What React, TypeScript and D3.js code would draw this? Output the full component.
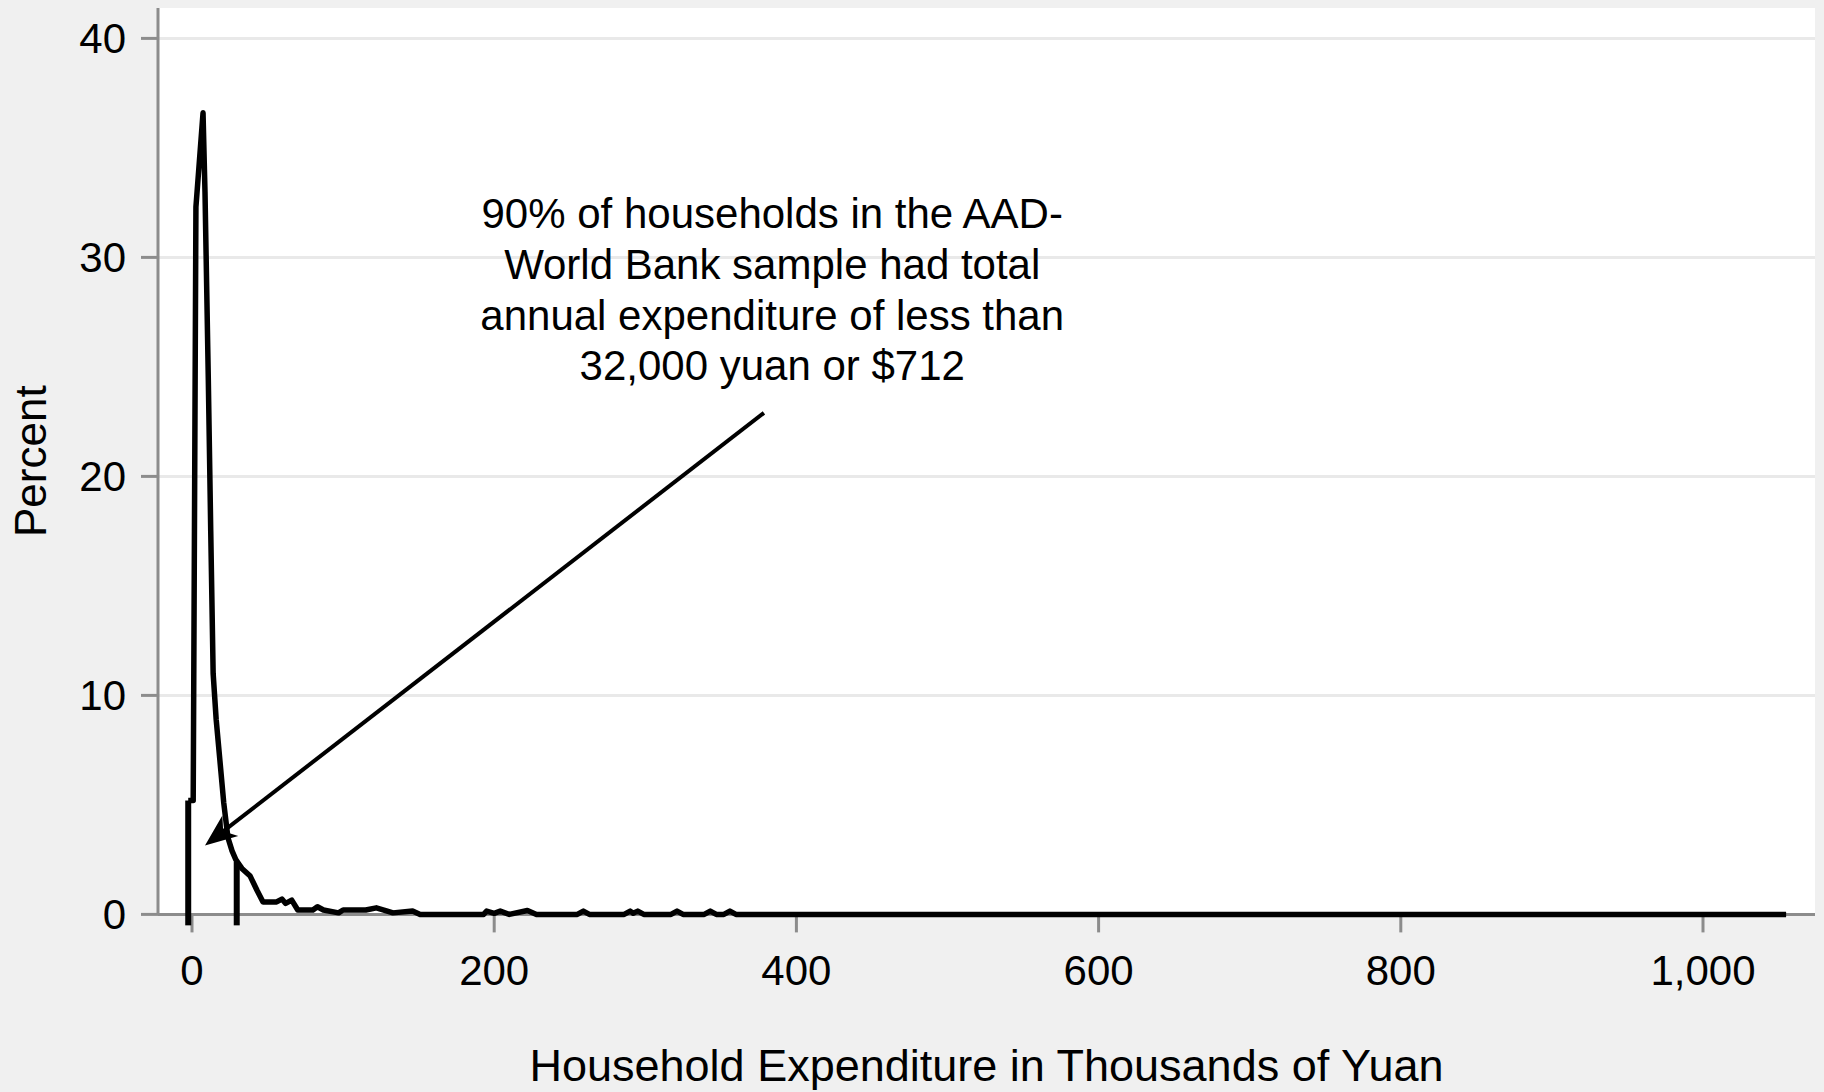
import React, { useEffect } from "react";
import * as d3 from "d3";

// Household expenditure (thousands of yuan) and share of households (%)
const expenditure = [
  -2.5, 0.8, 2.6, 7.3, 8.6, 10.8, 12.4, 14.0, 16.0, 18.5, 21.0, 23.8, 26.5, 29.0,
  31.0, 33.0, 38.5, 43, 47, 56, 59.5, 62, 66, 70, 80, 83, 87, 97, 100, 115, 122,
  127, 133, 146, 151, 193, 195, 200, 204, 210, 222, 228, 255, 259, 263, 286, 290,
  292, 295, 299, 317, 321, 325, 339, 343, 347, 352, 356, 360, 1055,
];
const percent = [
  5.2, 5.2, 32.3, 36.6, 33.0, 24.4, 17.5, 11.0, 8.9, 7.0, 5.1, 3.5, 2.9, 2.5,
  2.3, 2.1, 1.75, 1.1, 0.57, 0.57, 0.7, 0.5, 0.65, 0.2, 0.2, 0.35, 0.2, 0.07, 0.2,
  0.2, 0.3, 0.2, 0.07, 0.16, 0, 0, 0.15, 0.05, 0.15, 0, 0.18, 0, 0, 0.15, 0, 0,
  0.15, 0.05, 0.15, 0, 0, 0.15, 0, 0, 0.15, 0, 0, 0.15, 0, 0,
];

// Short vertical markers bracketing the bulk of the distribution
const spikeX = [-2.5, 29.6];
const spikeTop = [5.2, 2.4];
const spikeBottom = -0.5;

const xTicks = [0, 200, 400, 600, 800, 1000];
const yTicks = [0, 10, 20, 30, 40];

const noteLines = [
  "90% of households in the AAD-",
  "World Bank sample had total",
  "annual expenditure of less than",
  "32,000 yuan or $712",
];
// Note position and arrow, in data units (x: thousands of yuan, y: percent)
const noteAt = { x: 384, y: 32.0 };
const arrowFrom = { x: 378.5, y: 22.9 };
const arrowTo = { x: 8.6, y: 3.15 };

const xTitle = "Household Expenditure in Thousands of Yuan";
const yTitle = "Percent";

const W = 1824;
const H = 1092;
const plot = { left: 158, right: 1815, top: 8, bottom: 914.4 };
const FONT = "'Liberation Sans', Arial, Helvetica, sans-serif";
const BG = "#f0f0f0";
const AXIS = "#8c8c8c";
const GRID = "#e9e9e9";

export default function App() {
  useEffect(() => {
    document.body.style.margin = "0";
    document.body.style.overflow = "hidden";
  }, []);

  const x = d3.scaleLinear().domain([0, 1000]).range([192, 1703]);
  const y = d3.scaleLinear().domain([0, 40]).range([914.4, 38.4]);

  const pts: [number, number][] = expenditure.map((e, i) => [e, percent[i]]);
  const line = d3
    .line<[number, number]>()
    .x((d) => x(d[0]))
    .y((d) => y(d[1]))
    .curve(d3.curveLinear);

  // Arrow geometry
  const ax0 = x(arrowFrom.x), ay0 = y(arrowFrom.y);
  const ax1 = x(arrowTo.x), ay1 = y(arrowTo.y);
  const dx = ax1 - ax0, dy = ay1 - ay0;
  const len = Math.hypot(dx, dy);
  const ux = dx / len, uy = dy / len;
  const nx = -uy, ny = ux;
  const headL = 32, headW = 13, notch = 23;
  const head = [
    [ax1, ay1],
    [ax1 - headL * ux + headW * nx, ay1 - headL * uy + headW * ny],
    [ax1 - notch * ux, ay1 - notch * uy],
    [ax1 - headL * ux - headW * nx, ay1 - headL * uy - headW * ny],
  ]
    .map((p) => p.join(","))
    .join(" ");

  const lineGap = 50.7;

  return (
    <svg
      width={W}
      height={H}
      viewBox={`0 0 ${W} ${H}`}
      style={{ position: "absolute", left: 0, top: 0, display: "block" }}
      fontFamily={FONT}
    >
      <rect x={0} y={0} width={W} height={H} fill={BG} />
      <rect
        x={plot.left}
        y={plot.top}
        width={plot.right - plot.left}
        height={plot.bottom - plot.top}
        fill="#ffffff"
      />

      {/* horizontal gridlines */}
      {yTicks
        .filter((t) => t !== 0)
        .map((t) => (
          <line
            key={`g${t}`}
            x1={plot.left}
            x2={plot.right}
            y1={y(t)}
            y2={y(t)}
            stroke={GRID}
            strokeWidth={3}
          />
        ))}

      {/* y axis */}
      <line x1={plot.left} x2={plot.left} y1={plot.top} y2={plot.bottom} stroke={AXIS} strokeWidth={3} />
      {yTicks.map((t) => (
        <g key={`y${t}`}>
          <line x1={plot.left - 17} x2={plot.left} y1={y(t)} y2={y(t)} stroke={AXIS} strokeWidth={3} />
          <text
            x={126}
            y={y(t)}
            dy="0.35em"
            textAnchor="end"
            fontSize={42}
            fill="#000"
          >
            {d3.format(",")(t)}
          </text>
        </g>
      ))}

      {/* x axis */}
      <line x1={plot.left} x2={plot.right} y1={plot.bottom} y2={plot.bottom} stroke={AXIS} strokeWidth={3} />
      {xTicks.map((t) => (
        <g key={`x${t}`}>
          <line x1={x(t)} x2={x(t)} y1={plot.bottom} y2={plot.bottom + 18} stroke={AXIS} strokeWidth={3} />
          <text x={x(t)} y={985} textAnchor="middle" fontSize={42} fill="#000">
            {d3.format(",")(t)}
          </text>
        </g>
      ))}

      {/* axis titles */}
      <text x={(plot.left + plot.right) / 2} y={1081} textAnchor="middle" fontSize={45} fill="#000">
        {xTitle}
      </text>
      <text
        transform={`translate(46, ${(plot.top + plot.bottom) / 2}) rotate(-90)`}
        textAnchor="middle"
        fontSize={44}
        fill="#000"
      >
        {yTitle}
      </text>

      {/* distribution line */}
      <path
        d={line(pts) || ""}
        fill="none"
        stroke="#000"
        strokeWidth={5.5}
        strokeLinejoin="round"
      />

      {/* marker spikes */}
      {spikeX.map((s, i) => (
        <line
          key={`s${i}`}
          x1={x(s)}
          x2={x(s)}
          y1={y(spikeBottom)}
          y2={y(spikeTop[i])}
          stroke="#000"
          strokeWidth={6}
        />
      ))}

      {/* annotation */}
      <line x1={ax0} y1={ay0} x2={ax1 - notch * ux * 0.8} y2={ay1 - notch * uy * 0.8} stroke="#000" strokeWidth={4} />
      <polygon points={head} fill="#000" />
      {noteLines.map((s, i) => (
        <text
          key={`n${i}`}
          x={x(noteAt.x)}
          y={y(noteAt.y) + i * lineGap}
          dy="0.35em"
          textAnchor="middle"
          fontSize={42}
          fill="#000"
        >
          {s}
        </text>
      ))}
    </svg>
  );
}
